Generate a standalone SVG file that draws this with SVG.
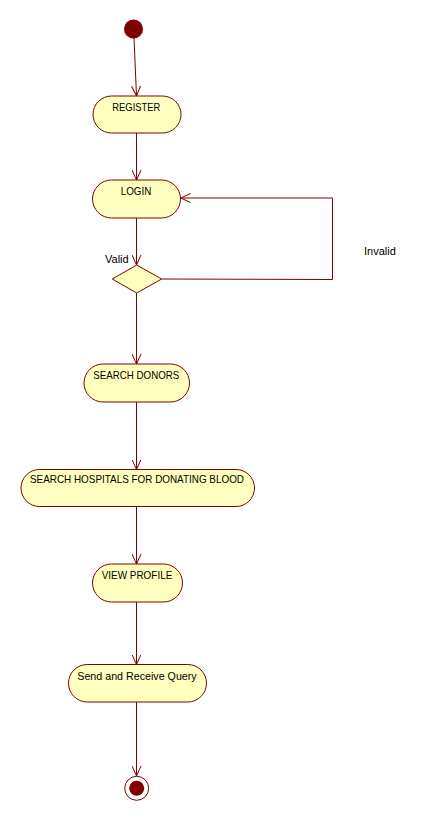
<svg xmlns="http://www.w3.org/2000/svg" width="421" height="821" viewBox="0 0 421 821">
<style>
.act{fill:#FFFFC0;stroke:#800000;stroke-width:1}
.lbl{font-family:"Liberation Sans",Arial,sans-serif;font-size:11px;fill:#000}
.c{stroke:#800000;stroke-width:1;fill:none}
</style>
<defs>
<marker id="ah" markerWidth="12" markerHeight="10" refX="10" refY="5" orient="auto" markerUnits="userSpaceOnUse">
<path d="M0,0.5 L10,5 L0,9.5" fill="none" stroke="#800000" stroke-width="1"/>
</marker>
</defs>
<rect width="421" height="821" fill="#fff"/>
<g id="connectors">
<line class="c" x1="134" y1="38" x2="136.5" y2="96" marker-end="url(#ah)"/>
<line class="c" x1="136.5" y1="133" x2="136.5" y2="180" marker-end="url(#ah)"/>
<line class="c" x1="136.5" y1="218" x2="136.5" y2="265" marker-end="url(#ah)"/>
<polyline class="c" points="161.7,279 332.5,279.5 332.5,198 180.7,198" marker-end="url(#ah)"/>
<line class="c" x1="136.5" y1="293" x2="136.5" y2="364" marker-end="url(#ah)"/>
<line class="c" x1="136.5" y1="402" x2="136.5" y2="469.5" marker-end="url(#ah)"/>
<line class="c" x1="136.5" y1="507" x2="136.5" y2="564" marker-end="url(#ah)"/>
<line class="c" x1="136.5" y1="602" x2="136.5" y2="664.5" marker-end="url(#ah)"/>
<line class="c" x1="136.5" y1="702" x2="136.5" y2="776" marker-end="url(#ah)"/>
<text class="lbl" x="105" y="263">Valid</text>
<text class="lbl" x="364" y="255">Invalid</text>
</g>
<g id="start"><circle cx="133.5" cy="29" r="9.5" fill="#800000"/></g>
<g id="register"><rect class="act" x="93" y="96" width="88" height="37" rx="18.5"/><text class="lbl" x="112.3" y="111" textLength="48" lengthAdjust="spacingAndGlyphs">REGISTER</text></g>
<g id="login"><rect class="act" x="92.5" y="180" width="88" height="38" rx="19"/><text class="lbl" x="120.7" y="195" textLength="30.6" lengthAdjust="spacingAndGlyphs">LOGIN</text></g>
<g id="decision"><polygon class="act" points="136.7,265 161.7,279 136.7,293 112.3,279"/></g>
<g id="search-donors"><rect class="act" x="84" y="364" width="105.5" height="38" rx="19"/><text class="lbl" x="93.3" y="379" textLength="86" lengthAdjust="spacingAndGlyphs">SEARCH DONORS</text></g>
<g id="search-hospitals"><rect class="act" x="21" y="469.5" width="233.5" height="37" rx="18.5"/><text class="lbl" x="30" y="483" textLength="214" lengthAdjust="spacingAndGlyphs">SEARCH HOSPITALS FOR DONATING BLOOD</text></g>
<g id="view-profile"><rect class="act" x="92.5" y="564" width="90" height="38" rx="19"/><text class="lbl" x="101.7" y="579" textLength="70.6" lengthAdjust="spacingAndGlyphs">VIEW PROFILE</text></g>
<g id="send-query"><rect class="act" x="68.5" y="664.5" width="138" height="37.5" rx="18.75"/><text class="lbl" x="77.3" y="680" textLength="119.4" lengthAdjust="spacingAndGlyphs">Send and Receive Query</text></g>
<g id="end"><circle cx="136.7" cy="788.3" r="12" fill="#fff" stroke="#800000"/><circle cx="136.7" cy="788.3" r="7.5" fill="#800000"/></g>
</svg>
